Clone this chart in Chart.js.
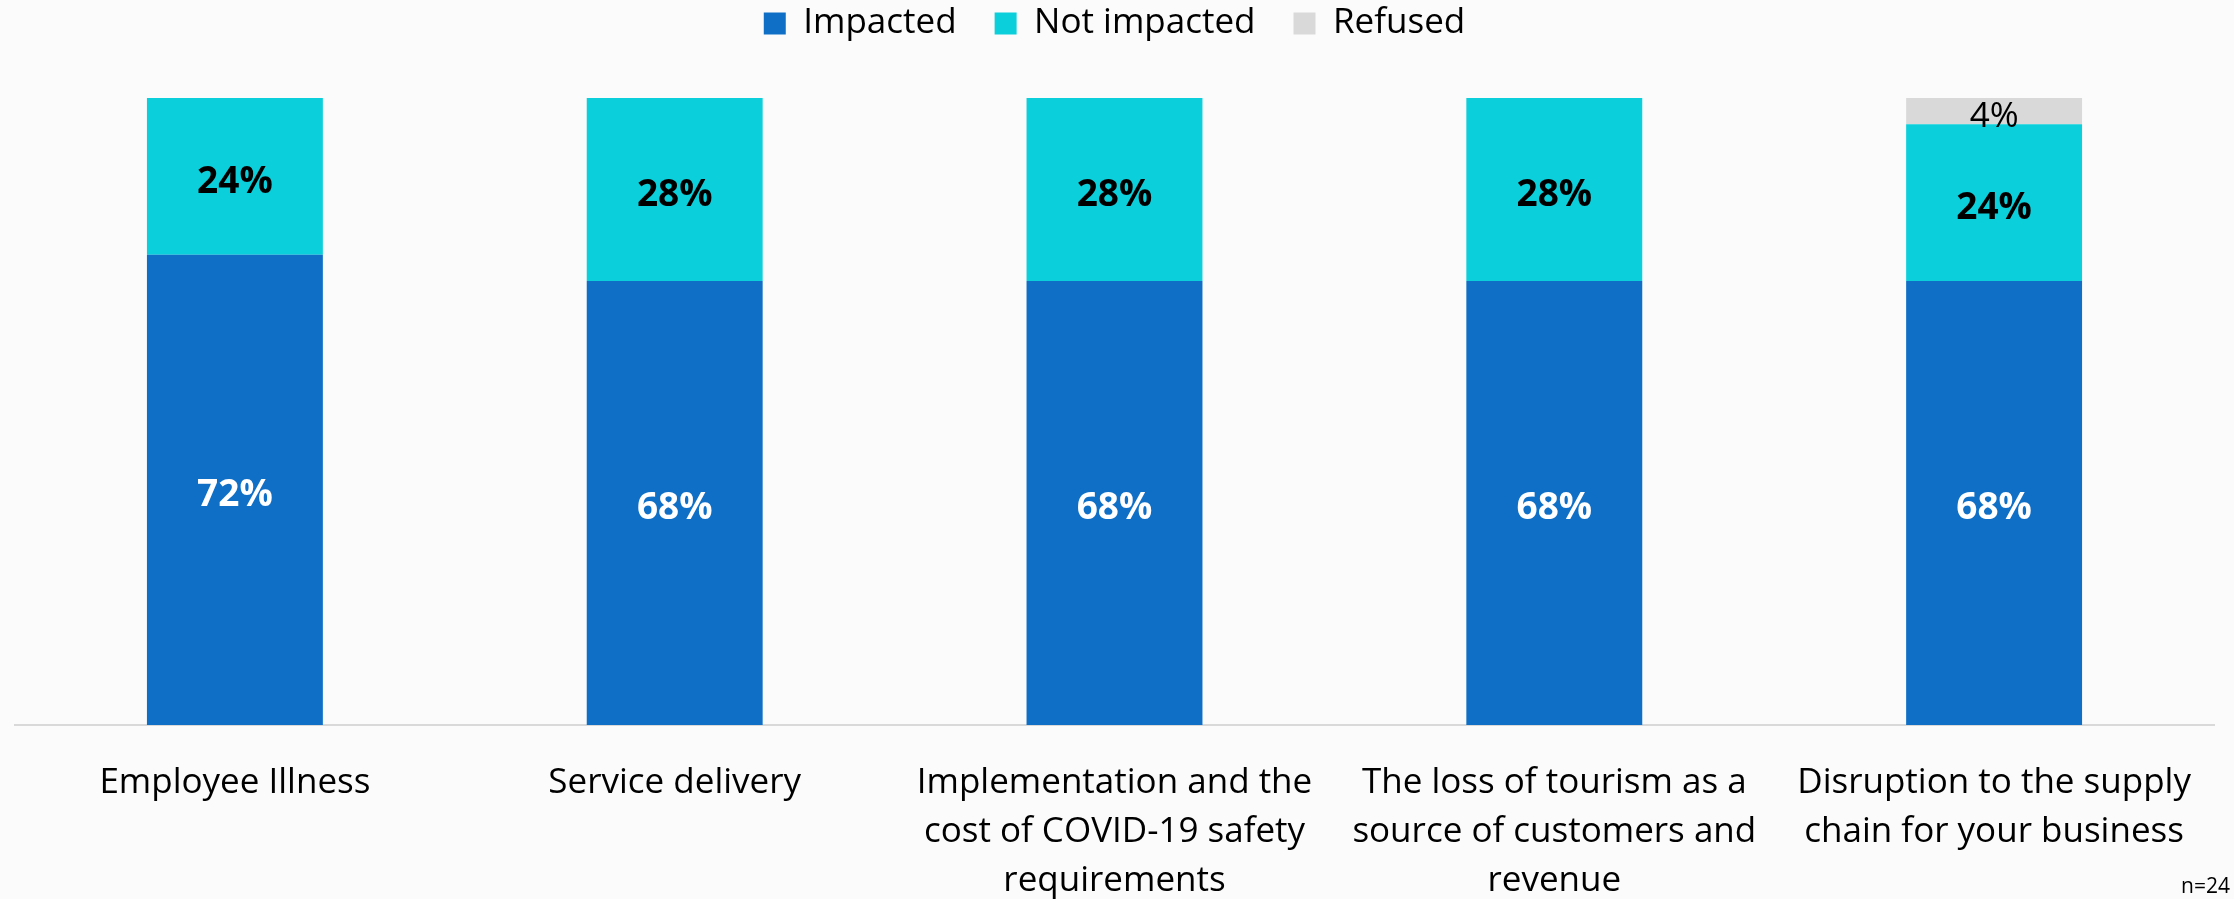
<!DOCTYPE html>
<html>
<head>
<meta charset="utf-8">
<script src="https://cdn.jsdelivr.net/npm/chart.js@4"></script>
<style>
  html, body { margin: 0; padding: 0; background: #fbfbfb; }
  #wrap { width: 2234px; height: 899px; position: relative; }
</style>
</head>
<body>
<div id="wrap"><canvas id="c" width="2234" height="899"></canvas></div>
<script>
const categories = [
  "Employee Illness",
  "Service delivery",
  ["Implementation and the", "cost of COVID-19 safety", "requirements"],
  ["The loss of tourism as a", "source of customers and", "revenue"],
  ["Disruption to the supply", "chain for your business"]
];
const impacted    = [72, 68, 68, 68, 68];
const notImpacted = [24, 28, 28, 28, 24];
const refused     = [0, 0, 0, 0, 4];
const sampleNote  = "n=24";

// 100% stacked: each bar is scaled to its own total
const totals = impacted.map((v, i) => v + notImpacted[i] + refused[i]);
const share = arr => arr.map((v, i) => v / totals[i] * 100);

const FONT = "'Open Sans', 'Noto Sans', sans-serif";

const bg = {
  id: 'bg',
  beforeDraw(chart) {
    const c = chart.ctx;
    c.save(); c.fillStyle = '#fbfbfb'; c.fillRect(0, 0, chart.width, chart.height); c.restore();
  }
};

const legendFit = {
  id: 'legendFit',
  beforeInit(chart) {
    const orig = chart.legend.fit;
    chart.legend.fit = function () { orig.bind(chart.legend)(); this.height = 130; };
  }
};

const valueLabels = {
  id: 'valueLabels',
  afterDatasetsDraw(chart) {
    const c = chart.ctx;
    c.save();
    c.textAlign = 'center';
    c.textBaseline = 'middle';
    chart.data.datasets.forEach((ds, di) => {
      const meta = chart.getDatasetMeta(di);
      meta.data.forEach((el, i) => {
        const raw = ds.raw[i];
        if (!raw) return;
        const y = (el.y + el.base) / 2;
        c.font = ds.labelFont;
        c.fillStyle = ds.labelColor;
        c.fillText(raw + '%', el.x, y + ds.labelShift);
      });
    });
    c.font = "21px " + FONT;
    c.fillStyle = '#000000';
    c.textAlign = 'right';
    c.textBaseline = 'alphabetic';
    c.fillText(sampleNote, 2230, 893);
    c.restore();
  }
};

new Chart(document.getElementById('c'), {
  type: 'bar',
  data: {
    labels: categories,
    datasets: [
      { label: 'Impacted', data: share(impacted), raw: impacted, backgroundColor: '#0f6fc6',
        labelColor: '#ffffff', labelFont: "bold 37px " + FONT, labelShift: 6 },
      { label: 'Not impacted', data: share(notImpacted), raw: notImpacted, backgroundColor: '#0bcfda',
        labelColor: '#000000', labelFont: "bold 37px " + FONT, labelShift: 6 },
      { label: 'Refused', data: share(refused), raw: refused, backgroundColor: '#d9d9d9',
        labelColor: '#000000', labelFont: "35px " + FONT, labelShift: 6 }
    ]
  },
  options: {
    responsive: false,
    animation: false,
    layout: { padding: { top: -32, left: 15, right: 20, bottom: -41 } },
    datasets: { bar: { barPercentage: 0.8, categoryPercentage: 0.5, borderWidth: 0 } },
    scales: {
      x: {
        stacked: true,
        grid: { display: false, drawTicks: false },
        border: { display: true, color: '#d9d9d9', width: 2 },
        ticks: { color: '#000000', font: { family: FONT, size: 35, lineHeight: 1.4 },
                 padding: 34, maxRotation: 0, autoSkip: false }
      },
      y: { stacked: true, display: false, min: 0, max: 100 }
    },
    plugins: {
      legend: {
        position: 'top',
        labels: { color: '#000000', font: { family: FONT, size: 35 }, boxWidth: 22, boxHeight: 22, padding: 38 }
      },
      tooltip: { enabled: false }
    }
  },
  plugins: [bg, legendFit, valueLabels]
});
</script>
</body>
</html>
